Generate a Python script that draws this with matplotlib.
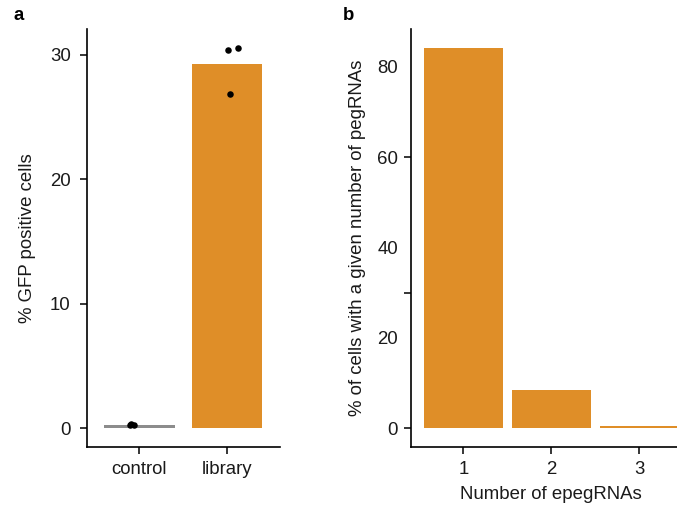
import matplotlib
matplotlib.use("Agg")
import matplotlib.pyplot as plt
import numpy as np

plt.rcParams['font.family'] = ['Liberation Sans', 'DejaVu Sans']

# Panel a: GFP-positive cells per condition (replicates)
conditions = ["control", "library"]
replicates = {
    "control": [0.30, 0.29, 0.31],
    "library": [30.37, 30.53, 26.86],
}
bar_colors = ["#8C8C8C", "#DF8E28"]
jitter = {"control": [-0.11, -0.06, -0.10], "library": [0.01, 0.12, 0.03]}

# Panel b: distribution of pegRNA copies per cell
n_epegrnas = [1, 2, 3]
pct_cells = [84.1, 8.4, 0.6]

ORANGE = "#DF8E28"
FS = 13.4
TXT = "#1a1a1a"

fig = plt.figure(figsize=(6.77, 5.12), dpi=100)

# ---- panel a ----
axa = fig.add_axes([0.128, 0.127, 0.2856, 0.8164])
xa = np.arange(len(conditions))
means = [np.mean(replicates[c]) for c in conditions]
axa.bar(xa, means, width=0.8, color=bar_colors, zorder=1)
for i, c in enumerate(conditions):
    axa.scatter(i + np.array(jitter[c]), replicates[c], s=22, color="black",
                zorder=3, linewidths=0)
axa.set_xlim(-0.6, 1.6)
axa.set_ylim(-1.5, 32.05)
axa.set_yticks([0, 10, 20, 30])
axa.set_xticks(xa)
axa.set_xticklabels(conditions)
axa.set_ylabel("% GFP positive cells", fontsize=FS, labelpad=10, color=TXT)
axa.tick_params(axis="y", length=5, width=1.1, pad=6.5, labelsize=FS)
axa.tick_params(axis="x", length=5, width=1.1, pad=5, labelsize=FS)

# ---- panel b ----
axb = fig.add_axes([0.6066, 0.127, 0.4156, 0.8164])
axb.bar(n_epegrnas, pct_cells, width=0.9, color=ORANGE, zorder=1)
axb.set_xlim(0.4, 3.6)
axb.set_ylim(-4.1, 88.3)
axb.set_xticks(n_epegrnas)
# tick marks at 0/30/60, labels every 20
axb.yaxis.remove_overlapping_locs = False
axb.set_yticks([0, 30, 60])
axb.set_yticklabels([])
axb.set_yticks([0, 20, 40, 60, 80], minor=True)
axb.set_yticklabels(["0", "20", "40", "60", "80"], minor=True)
axb.set_xlabel("Number of epegRNAs", fontsize=FS, labelpad=6, color=TXT)
axb.set_ylabel("% of cells with a given number of pegRNAs", fontsize=FS,
               labelpad=8, color=TXT)
axb.tick_params(axis="y", which="minor", length=0, pad=9, labelsize=FS)
axb.tick_params(axis="y", which="major", length=5, width=1.1)
axb.tick_params(axis="x", length=5, width=1.1, pad=5, labelsize=FS)

for ax in (axa, axb):
    for side in ("top", "right"):
        ax.spines[side].set_visible(False)
    for side in ("left", "bottom"):
        ax.spines[side].set_linewidth(1.2)
    ax.tick_params(which="both", colors="black", labelcolor=TXT)

fig.text(13 / 677, 1 - 15 / 512, "a", fontsize=FS, fontweight="bold",
         va="center", ha="left")
fig.text(343 / 677, 1 - 15 / 512, "b", fontsize=FS, fontweight="bold",
         va="center", ha="left")

fig.savefig("out.png", dpi=100)
